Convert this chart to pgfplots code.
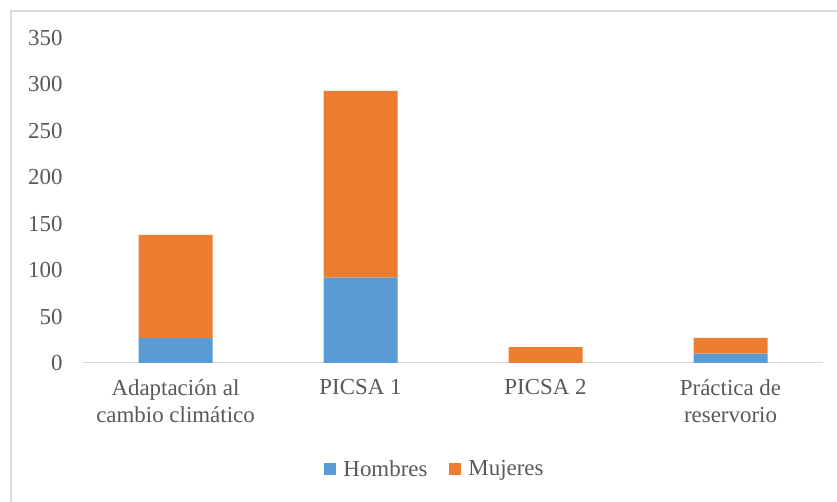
\documentclass[border=0pt]{standalone}
\usepackage{pgfplots}
\pgfplotsset{compat=1.18}
\usepackage{fontspec}
\setmainfont{Liberation Serif}
\definecolor{cblue}{HTML}{5B9BD5}
\definecolor{corange}{HTML}{ED7D31}
\definecolor{tgray}{HTML}{595959}
\definecolor{lgray}{HTML}{D9D9D9}
\begin{document}
\begin{tikzpicture}[x=1bp,y=1bp]
\useasboundingbox (0,0) rectangle (837,502);
\fill[white] (0,0) rectangle (837,502);
\draw[lgray, line width=1.5bp] (11,0) -- (11,491) -- (837,491);
\begin{axis}[
  at={(83bp,139bp)}, anchor=south west,
  scale only axis, width=740bp, height=325bp,
  ybar stacked, bar width=74bp,
  xmin=-0.5, xmax=3.5, ymin=0, ymax=350,
  xtick=data,
  xticklabels={{Adaptación al\\cambio climático},{PICSA 1},{PICSA 2},{Práctica de\\reservorio}},
  ytick={0,50,...,350},
  major tick length=0pt,
  axis line style={draw=none},
  axis x line*=bottom, axis y line*=left,
  /pgf/number format/assume math mode=true,
  ticklabel style={font=\fontsize{23}{27}\selectfont, text=tgray},
  xticklabel style={align=center, anchor=north, yshift=-13bp},
  yticklabel style={anchor=east, xshift=-17bp},
  legend style={draw=none, at={(axis description cs:0.4757,-0.326)}, anchor=center,
    font=\fontsize{23}{27}\selectfont, text=tgray, legend columns=2,
    /tikz/every even column/.append style={column sep=20bp},
    legend cell align=left},
  legend image code/.code={\fill[#1] (0bp,-6bp) rectangle (12bp,6bp); \path (17bp,0bp);},
  every axis legend/.append style={inner sep=0pt},
]
\addplot[fill=cblue, draw=none] coordinates {(0,27) (1,92) (2,0) (3,10)};
\addplot[fill=corange, draw=none] coordinates {(0,111) (1,201) (2,17) (3,17)};
\legend{Hombres, Mujeres}
\draw[lgray, line width=1.5bp] (axis cs:-0.5,0) -- (axis cs:3.5,0);
\end{axis}
\end{tikzpicture}
\end{document}
